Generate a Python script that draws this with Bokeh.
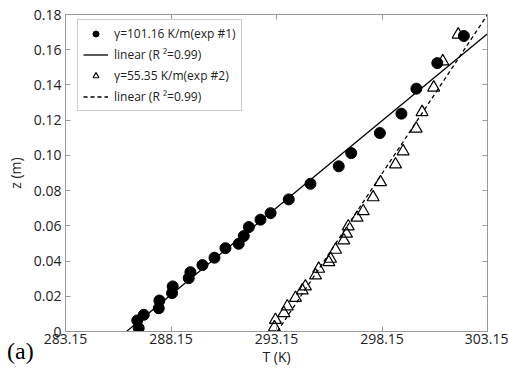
from bokeh.plotting import figure
from bokeh.layouts import column
from bokeh.models import (FixedTicker, NumeralTickFormatter, LinearAxis, Legend,
                          LegendItem, Div, Range1d)
from bokeh.embed import file_html
from bokeh.resources import INLINE

# Experiment 1: temperature (K) vs height (m)
T1 = [286.62, 286.55, 286.86, 287.57, 287.60, 288.20, 288.23, 288.99, 289.07,
      289.64, 290.21, 290.73, 291.36, 291.60, 291.84, 292.39, 292.87, 293.73,
      294.76, 296.10, 296.69, 298.05, 299.07, 299.78, 300.77, 302.03]
z1 = [0.0019, 0.0063, 0.0095, 0.0132, 0.0176, 0.0218, 0.0256, 0.0303, 0.0337,
      0.0377, 0.0419, 0.0473, 0.0498, 0.0542, 0.0593, 0.0635, 0.0672, 0.0750,
      0.0839, 0.0938, 0.1013, 0.1127, 0.1237, 0.1379, 0.1524, 0.1678]

# Experiment 2
T2 = [293.05, 293.10, 293.50, 293.66, 294.05, 294.37, 294.52, 295.00, 295.15,
      295.63, 295.71, 295.95, 296.34, 296.47, 296.55, 296.97, 297.26, 297.73,
      298.08, 298.79, 299.15, 299.77, 300.05, 300.60, 301.03, 301.76]
z2 = [0.0024, 0.0066, 0.0104, 0.0142, 0.0191, 0.0233, 0.0256, 0.0318, 0.0356,
      0.0394, 0.0413, 0.0464, 0.0517, 0.0555, 0.0597, 0.0646, 0.0683, 0.0762,
      0.0848, 0.0949, 0.1023, 0.1152, 0.1246, 0.1385, 0.1534, 0.1686]

# Linear fits T = T0 + gamma * z
gamma1, T0_1 = 101.16, 286.04
gamma2, T0_2 = 55.35, 293.19

x_ticks = [283.15, 288.15, 293.15, 298.15, 303.15]
y_ticks = [0, 0.02, 0.04, 0.06, 0.08, 0.10, 0.12, 0.14, 0.16, 0.18]

FONT = "Open Sans"
AX = "#9a9a9a"

fig = figure(width=508, height=370, output_backend="svg", toolbar_location=None,
             x_range=Range1d(283.15, 303.15), y_range=Range1d(0, 0.18),
             min_border_left=65, min_border_right=21, min_border_top=14,
             min_border_bottom=39, x_axis_label="T (K)", y_axis_label="z (m)")
fig.grid.visible = False
fig.outline_line_color = AX
fig.background_fill_color = "white"
fig.border_fill_color = "white"

for ax in (fig.xaxis[0], fig.yaxis[0]):
    ax.axis_line_color = AX
    ax.major_tick_line_color = AX
    ax.major_tick_in = 5
    ax.major_tick_out = 0
    ax.minor_tick_line_color = None
    ax.major_label_text_font = FONT
    ax.major_label_text_font_size = "14px"
    ax.major_label_text_color = "#222222"
    ax.axis_label_text_font = FONT
    ax.axis_label_text_font_size = "14px"
    ax.axis_label_text_font_style = "normal"
    ax.axis_label_text_color = "#222222"

fig.xaxis[0].ticker = FixedTicker(ticks=x_ticks)
fig.xaxis[0].formatter = NumeralTickFormatter(format="0.00")
fig.xaxis[0].major_label_standoff = 2
fig.xaxis[0].axis_label_standoff = 0
fig.yaxis[0].ticker = FixedTicker(ticks=y_ticks)
fig.yaxis[0].formatter = NumeralTickFormatter(format="0.00")
fig.yaxis[0].major_label_overrides = {0: "0"}
fig.yaxis[0].major_label_standoff = 4
fig.yaxis[0].axis_label_standoff = 6

# Inward ticks on the top and right edges as well (no labels there)
top = LinearAxis(ticker=FixedTicker(ticks=x_ticks),
                 major_label_overrides={t: "" for t in x_ticks},
                 axis_line_color=AX, major_tick_line_color=AX, major_tick_in=5,
                 major_tick_out=0, minor_tick_line_color=None,
                 major_label_standoff=0)
right = LinearAxis(ticker=FixedTicker(ticks=y_ticks),
                   major_label_overrides={t: "" for t in y_ticks},
                   axis_line_color=AX, major_tick_line_color=AX, major_tick_in=5,
                   major_tick_out=0, minor_tick_line_color=None,
                   major_label_standoff=0)
fig.add_layout(top, "above")
fig.add_layout(right, "right")

# Fitted lines over the plotted range
zf1 = [0.0, (303.15 - T0_1) / gamma1]
Tf1 = [T0_1 + gamma1 * z for z in zf1]
zf2 = [0.0, 0.18]
Tf2 = [T0_2 + gamma2 * z for z in zf2]

r_fit1 = fig.line(Tf1, zf1, line_color="black", line_width=1.3)
r_fit2 = fig.line(Tf2, zf2, line_color="black", line_width=1.3, line_dash="4 3")
r_pts1 = fig.scatter(T1, z1, marker="circle", size=11, fill_color="black",
                     line_color="black")
r_pts2 = fig.scatter(T2, z2, marker="triangle", size=12, fill_color=None,
                     line_color="black", line_width=1.2)

legend = Legend(items=[
    LegendItem(label="\u03b3=101.16 K/m(exp #1)", renderers=[r_pts1]),
    LegendItem(label="linear (R \u00b2=0.99)", renderers=[r_fit1]),
    LegendItem(label="\u03b3=55.35 K/m(exp #2)", renderers=[r_pts2]),
    LegendItem(label="linear (R \u00b2=0.99)", renderers=[r_fit2]),
])
legend.margin = 0
legend.location = (12, 220)
legend.padding = 5
legend.spacing = 4
legend.glyph_width = 25
legend.glyph_height = 15
legend.label_height = 15
legend.label_standoff = 6
legend.label_text_font = FONT
legend.label_text_font_size = "12px"
legend.label_text_color = "#222222"
legend.border_line_color = AX
legend.border_line_width = 1
legend.background_fill_alpha = 1
fig.add_layout(legend, "center")

# Panel tag "(a)", pulled up over the lower-left corner of the figure
tag = Div(text="(a)", width=40, height=32, margin=(-34, 0, 0, 7),
          styles={"font-family": "'Liberation Serif', serif",
                  "font-size": "24px", "line-height": "30px",
                  "color": "black", "background": "transparent"})

p = column(fig, tag, spacing=0)

open("out.html", "w").write(file_html(p, INLINE))
